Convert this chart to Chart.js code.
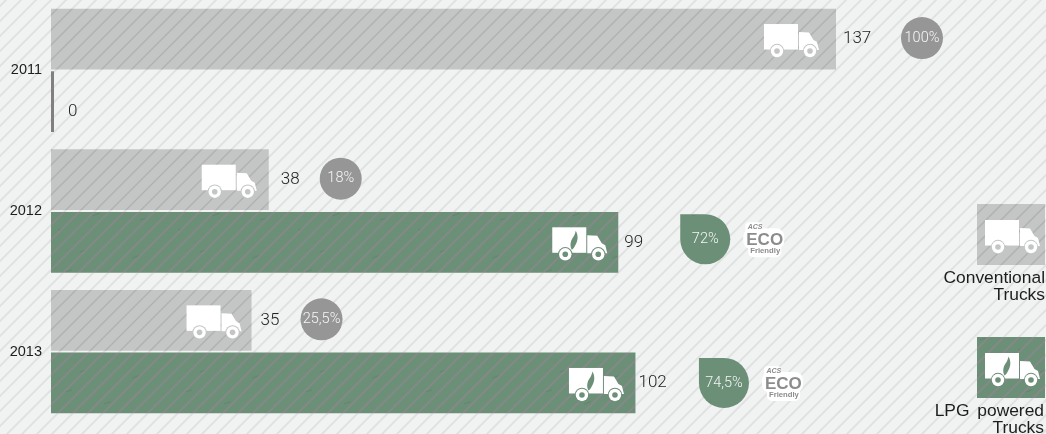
<!DOCTYPE html>
<html>
<head>
<meta charset="utf-8">
<style>html,body{margin:0;padding:0;background:#f1f2f2;overflow:hidden}canvas{display:block}</style>
<script src="https://cdn.jsdelivr.net/npm/chart.js@4"></script>
</head>
<body>
<canvas id="c" width="1046" height="434"></canvas>
<script>
// ---- data ----
const years = ['2011', '2012', '2013'];
const conventionalTrucks = [137, 38, 35];
const lpgTrucks = [0, 99, 102];
const conventionalShare = ['100%', '18%', '25,5%'];
const lpgShare = [null, '72%', '74,5%'];
const legendConventional = ['Conventional', 'Trucks'];
const legendLpg = ['LPG powered', 'Trucks'];

// ---- style ----
const LIGHT = '300 17px Roboto, "Liberation Sans", sans-serif';
const PCT = '300 14.5px Roboto, "Liberation Sans", sans-serif';
const SANS = '"Liberation Sans", Arial, sans-serif';
const labelGap = [[7, 12, 9], [14, 6, 3]];
const labelDrop = [[0, 0, 0], [10, 0, 0]];
const bubbleGap = [[86, 72, 70], [0, 87, 88.5]];
const bubbleLift = [[1, 1, 1], [0, 3, 0]];
const truckGap = [[72, 67, 65], [0, 66, 66.5]];
const GREEN = '#6c8f78', GREY = '#c4c6c6';

function stripes(base, stripe, w, speck) {
  const S = 120, c = document.createElement('canvas');
  c.width = c.height = S;
  const g = c.getContext('2d');
  g.fillStyle = base; g.fillRect(0, 0, S, S);
  if (speck) texture(g);
  if (stripe) {
    g.strokeStyle = stripe; g.lineWidth = w;
    const p = S / 8;
    for (let k = -8; k <= 16; k++) {
      g.beginPath(); g.moveTo(k * p + 5, S + 1); g.lineTo(k * p + 5 + S + 2, -1); g.stroke();
    }
  }
  return g.createPattern(c, 'repeat');
}
function texture(g) {
  const marks = [[12,18,7],[40,70,9],[66,32,6],[92,96,8],[20,100,5],[104,44,7],[58,110,5],[80,12,5]];
  g.lineWidth = 1; g.strokeStyle = 'rgba(60,95,75,.22)';
  marks.forEach(([x, y, l]) => { g.beginPath(); g.moveTo(x, y); g.lineTo(x + l, y - l * .35); g.stroke(); });
}
const bgFill = stripes('#f1f2f2', '#dfe0e0', 1.8);
const greyFill = stripes(GREY, '#b0b2b2', 1.5);
const greenFill = stripes(GREEN, '#848a86', 2, true);
const greenPlain = stripes(GREEN, null, 0, true);
const zeroColor = '#808080', bubbleGrey = '#969696';

function truck(g, x, y, hole, flame) {
  g.save(); g.translate(x, y);
  g.fillStyle = '#fff';
  g.fillRect(0, 0, 34, 25.5);
  g.beginPath();
  g.moveTo(35, 8); g.lineTo(45, 8.5); g.lineTo(49.5, 16); g.lineTo(53, 18);
  g.lineTo(55, 26); g.lineTo(35, 26); g.closePath(); g.fill();
  [13, 46].forEach(cx => {
    g.fillStyle = hole; g.beginPath(); g.arc(cx, 27, 7.2, 0, 7); g.fill();
    g.fillStyle = '#fff'; g.beginPath(); g.arc(cx, 27, 6.2, 0, 7); g.fill();
    g.fillStyle = hole; g.beginPath(); g.arc(cx, 27, 2.8, 0, 7); g.fill();
  });
  if (flame) {
    g.fillStyle = GREEN;
    g.beginPath(); g.moveTo(23.5, 3.5);
    g.bezierCurveTo(26.5, 9, 25.5, 14, 23, 18);
    g.bezierCurveTo(22, 20, 21, 21.5, 19.5, 22.5);
    g.bezierCurveTo(17.5, 19, 18, 14, 20.5, 10.5);
    g.bezierCurveTo(22, 8.5, 23, 6, 23.5, 3.5);
    g.fill();
  }
  g.restore();
}
function ecoBadge(g, x, y) {
  g.save(); g.translate(x, y);
  g.fillStyle = '#fff';
  g.beginPath(); g.roundRect(2, 0, 17, 11, 4); g.fill();
  g.beginPath(); g.roundRect(0, 6, 41, 21, 8); g.fill();
  g.beginPath(); g.roundRect(5, 21, 33, 14, 5); g.fill();
  g.fillStyle = '#8c8c8c'; g.textBaseline = 'alphabetic'; g.textAlign = 'left';
  g.font = 'italic bold 7px ' + SANS; g.fillText('ACS', 4.5, 7);
  g.font = 'bold 17px ' + SANS; g.fillText('ECO', 3, 23);
  g.font = 'bold 7.7px ' + SANS; g.fillText('Friendly', 7, 31);
  g.restore();
}
function legendBlock(g, topY, fill, hole, flame, lines, textRight) {
  const rightX = 1045;
  g.fillStyle = fill; g.fillRect(rightX - 68, topY, 68, 61);
  truck(g, rightX - 60, topY + 16, hole, flame);
  g.fillStyle = '#1d1d1d'; g.font = '17.4px ' + SANS; g.textAlign = 'right'; g.textBaseline = 'middle';
  g.wordSpacing = '3px';
  lines.forEach((t, i) => g.fillText(t, textRight, topY + 74 + i * 17));
  g.wordSpacing = '0px';
}

const background = {
  id: 'background',
  beforeDraw(ch) { const g = ch.ctx; g.save(); g.fillStyle = bgFill; g.fillRect(0, 0, ch.width, ch.height); g.restore(); }
};
const overlays = {
  id: 'overlays',
  afterDatasetsDraw(ch) {
    const g = ch.ctx; g.save();
    ch.data.datasets.forEach((ds, d) => {
      ch.getDatasetMeta(d).data.forEach((bar, i) => {
        const v = ds.data[i], end = v === 0 ? ch.scales.x.left : bar.x, y = bar.y;
        g.fillStyle = '#222'; g.font = LIGHT; g.textAlign = 'left'; g.textBaseline = 'middle';
        g.fillText(String(v), end + labelGap[d][i] + (v === 0 ? 3 : 0), y + labelDrop[d][i]);
        if (v === 0) return;
        truck(g, end - truckGap[d][i], y - 15, d ? GREEN : GREY, d === 1);
        const share = (d ? lpgShare : conventionalShare)[i];
        const bx = end + bubbleGap[d][i], by = y - bubbleLift[d][i];
        if (d === 0) {
          g.fillStyle = bubbleGrey; g.beginPath(); g.arc(bx, by, 21, 0, 7); g.fill();
        } else {
          g.fillStyle = greenPlain;
          g.beginPath(); g.moveTo(bx - 25, by - 25); g.lineTo(bx, by - 25);
          g.arc(bx, by, 25, -Math.PI / 2, Math.PI, false); g.closePath(); g.fill();
          ecoBadge(g, bx + 38, by - 17);
        }
        g.fillStyle = 'rgba(255,255,255,.92)'; g.font = PCT; g.textAlign = 'center';
        g.fillText(share, bx, by);
      });
    });
    legendBlock(g, 204, greyFill, GREY, false, legendConventional, 1045);
    legendBlock(g, 337, greenFill, GREEN, true, legendLpg, 1044);
    g.restore();
  }
};

new Chart(document.getElementById('c'), {
  type: 'bar',
  data: {
    labels: years,
    datasets: [
      { label: 'Conventional Trucks', data: conventionalTrucks, backgroundColor: greyFill },
      { label: 'LPG powered Trucks', data: lpgTrucks, minBarLength: 3,
        backgroundColor: lpgTrucks.map(v => v === 0 ? zeroColor : greenFill) }
    ]
  },
  options: {
    indexAxis: 'y',
    responsive: false,
    animation: false,
    layout: { padding: { left: 0, right: 0, top: 0, bottom: 12 } },
    categoryPercentage: 0.89,
    barPercentage: 0.97,
    plugins: { legend: { display: false }, tooltip: { enabled: false } },
    scales: {
      x: { display: false, min: 0, max: 173.65 },
      y: {
        afterFit(s) { s.width = 51; s.paddingTop = 0; s.paddingBottom = 0; s.paddingLeft = 0; s.paddingRight = 0; },
        grid: { display: false, drawTicks: false },
        border: { display: false },
        ticks: { color: '#1d1d1d', font: { family: SANS, size: 14.5 }, padding: 9 }
      }
    }
  },
  plugins: [background, overlays]
});
</script>
</body>
</html>
